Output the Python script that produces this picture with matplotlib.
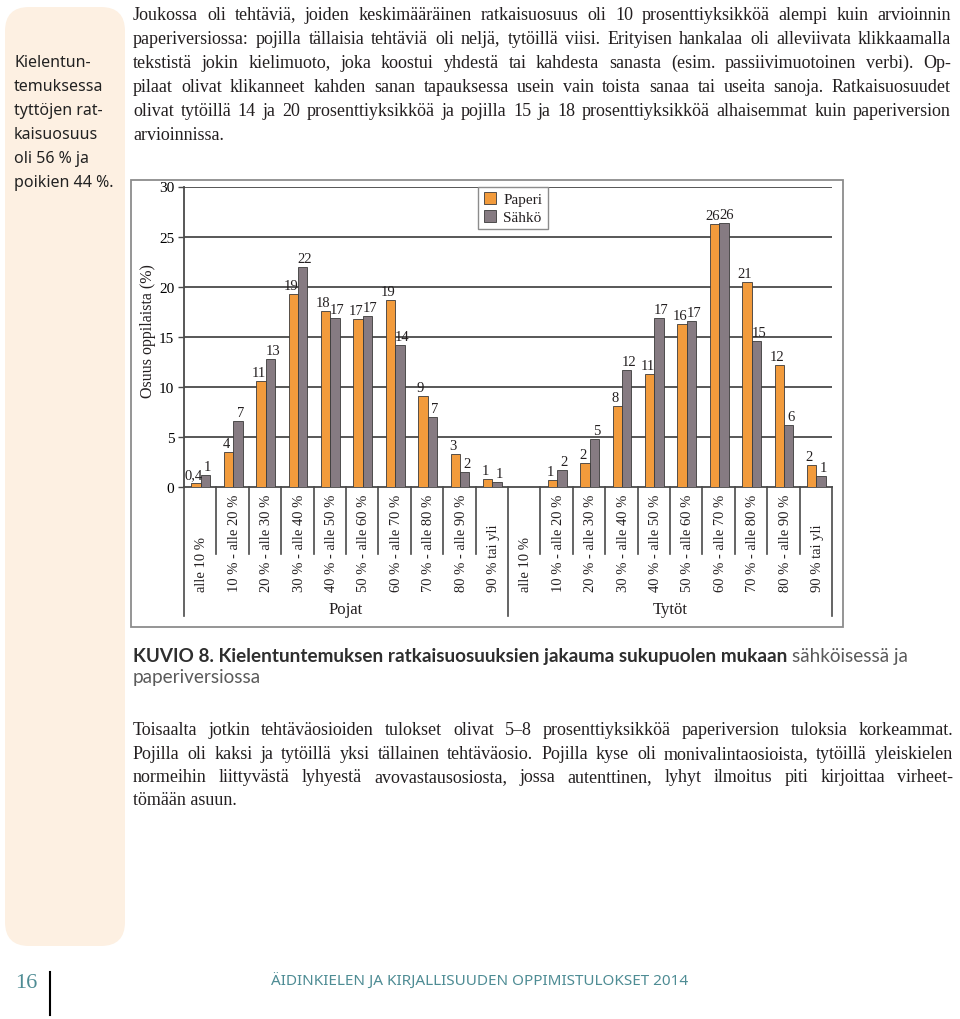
"""
Kuvio 8: kielentuntemuksen ratkaisuosuuksien jakauma sukupuolen mukaan,
paperi- ja sähköinen versio. Koko sivu tekstikappaleineen.
"""
import numpy as np
import matplotlib
matplotlib.use("Agg")
import matplotlib.pyplot as plt
from matplotlib.patches import Rectangle, FancyBboxPatch
from matplotlib.transforms import Affine2D, blended_transform_factory

W, H = 960, 1020

ORANGE = "#F29B3C"
GREY   = "#867B82"
GRID   = "#4A4A4A"
FRAME  = "#8C8C8C"
TEAL   = "#4E8C94"
PEACH  = "#FDF0E2"
INK    = "#231F20"

SERIF = ["Liberation Serif", "DejaVu Serif"]
SANS  = ["Noto Sans", "DejaVu Sans"]
CAP   = ["Lato", "Noto Sans", "DejaVu Sans"]

plt.rcParams.update({
    "font.family": SERIF,
    "font.size":   11,
    "text.color":  INK,
})

# ---- data -------------------------------------------------------------
bands = ["alle 10 %", "10 % - alle 20 %", "20 % - alle 30 %", "30 % - alle 40 %",
         "40 % - alle 50 %", "50 % - alle 60 %", "60 % - alle 70 %",
         "70 % - alle 80 %", "80 % - alle 90 %", "90 % tai yli"]
groups = ["Pojat", "Tytöt"]
series = ["Paperi", "Sähkö"]

boys_paper    = [0.4, 3.5, 10.6, 19.3, 17.6, 16.8, 18.7, 9.1, 3.3, 0.8]
boys_digital  = [1.2, 6.6, 12.8, 22.0, 16.9, 17.1, 14.2, 7.0, 1.5, 0.5]
girls_paper   = [0.0, 0.7, 2.4, 8.1, 11.3, 16.3, 26.3, 20.5, 12.2, 2.2]
girls_digital = [0.0, 1.7, 4.8, 11.7, 16.9, 16.6, 26.4, 14.6, 6.2, 1.1]

boys_paper_lbl    = ["0,4", "4", "11", "19", "18", "17", "19", "9", "3", "1"]
boys_digital_lbl  = ["1", "7", "13", "22", "17", "17", "14", "7", "2", "1"]
girls_paper_lbl   = ["", "1", "2", "8", "11", "16", "26", "21", "12", "2"]
girls_digital_lbl = ["", "2", "5", "12", "17", "17", "26", "15", "6", "1"]

y_ticks = [0, 5, 10, 15, 20, 25, 30]

para1 = [
    "Joukossa oli tehtäviä, joiden keskimääräinen ratkaisuosuus oli 10 prosenttiyksikköä alempi kuin arvioinnin",
    "paperiversiossa: pojilla tällaisia tehtäviä oli neljä, tytöillä viisi. Erityisen hankalaa oli alleviivata klikkaamalla",
    "tekstistä jokin kielimuoto, joka koostui yhdestä tai kahdesta sanasta (esim. passiivimuotoinen verbi). Op-",
    "pilaat olivat klikanneet kahden sanan tapauksessa usein vain toista sanaa tai useita sanoja. Ratkaisuosuudet",
    "olivat tytöillä 14 ja 20 prosenttiyksikköä ja pojilla 15 ja 18 prosenttiyksikköä alhaisemmat kuin paperiversion",
    "arvioinnissa.",
]
para2 = [
    "Toisaalta jotkin tehtäväosioiden tulokset olivat 5–8 prosenttiyksikköä paperiversion tuloksia korkeammat.",
    "Pojilla oli kaksi ja tytöillä yksi tällainen tehtäväosio. Pojilla kyse oli monivalintaosioista, tytöillä yleiskielen",
    "normeihin liittyvästä lyhyestä avovastausosiosta, jossa autenttinen, lyhyt ilmoitus piti kirjoittaa virheet-",
    "tömään asuun.",
]
sidebar = ["Kielentun-", "temuksessa", "tyttöjen rat-", "kaisuosuus", "oli 56 % ja", "poikien 44 %."]
caption_bold = "KUVIO 8. Kielentuntemuksen ratkaisuosuuksien jakauma sukupuolen mukaan "
caption_rest = ["sähköisessä ja", "paperiversiossa"]
footer = "ÄIDINKIELEN JA KIRJALLISUUDEN OPPIMISTULOKSET 2014"
page_no = "16"

# ---- page -------------------------------------------------------------
fig = plt.figure(figsize=(W / 100, H / 100), dpi=100)
fig.patch.set_facecolor("white")
# pixel coords, origin top-left
PX = Affine2D().scale(1 / W, -1 / H).translate(0, 1) + fig.transFigure
renderer = fig.canvas.get_renderer()

fig.patches.append(FancyBboxPatch((5, 8), 120, 939, boxstyle="round,pad=0,rounding_size=24",
                                  transform=PX, fc=PEACH, ec="none", zorder=0))

for i, s in enumerate(sidebar):
    fig.text(14, 63 + 24 * i, s, transform=PX, family=SANS, fontsize=11.5,
             va="center", ha="left", color="#222222")


def put_line(x0, x1, y, line, justify=True, **kw):
    if not justify:
        fig.text(x0, y, line, transform=PX, va="center", ha="left", **kw)
        return
    words = line.split(" ")
    texts = [fig.text(0, y, w, transform=PX, va="center", ha="left", **kw) for w in words]
    widths = [t.get_window_extent(renderer).width for t in texts]
    gap = (x1 - x0 - sum(widths)) / (len(words) - 1)
    x = x0
    for t, w in zip(texts, widths):
        t.set_x(x)
        x += w + gap


for i, line in enumerate(para1):
    put_line(133, 951, 15 + 24 * i, line, justify=(i < len(para1) - 1), fontsize=13, color=INK)

for i, line in enumerate(para2):
    put_line(133, 953, 731 + 23.2 * i, line, justify=(i < len(para2) - 1), fontsize=13, color=INK)

# caption
cap = fig.text(133, 657, caption_bold, transform=PX, family=CAP, fontsize=13.6,
               weight="bold", color="#2E2E2E", va="center", ha="left")
cap_w = cap.get_window_extent(renderer).width
fig.text(133 + cap_w, 657, caption_rest[0], transform=PX, family=CAP, fontsize=13.6,
         color="#5A5A5A", va="center", ha="left")
fig.text(133, 678, caption_rest[1], transform=PX, family=CAP, fontsize=13.6,
         color="#5A5A5A", va="center", ha="left")

# footer
fig.text(26, 984, page_no, transform=PX, fontsize=16, color=TEAL, va="center", ha="center")
fig.lines.append(plt.Line2D([50, 50], [973, 1016], transform=PX, color="black", lw=1.5))
fig.text(480, 982, footer, transform=PX, family=SANS, fontsize=11, color=TEAL,
         va="center", ha="center")

# chart frame
fig.patches.append(Rectangle((131, 181), 712, 447, transform=PX, fill=False,
                             ec=FRAME, lw=1.3))

# ---- chart ------------------------------------------------------------
ax = fig.add_axes([184 / W, 1 - 488 / H, 648 / W, 300.5 / H])
ax.set_facecolor("none")
ax.set_xlim(0, 20)
ax.set_ylim(0, 30)

paper = boys_paper + girls_paper
digital = boys_digital + girls_digital
paper_lbl = boys_paper_lbl + girls_paper_lbl
digital_lbl = boys_digital_lbl + girls_digital_lbl
x = np.arange(len(paper))

for v in y_ticks[1:]:
    ax.axhline(v, color=GRID, lw=1.3, zorder=1)

b1 = ax.bar(x + 0.23, paper, width=0.29, align="edge", color=ORANGE,
            edgecolor="#3A3A3A", lw=0.6, zorder=3, label=series[0])
b2 = ax.bar(x + 0.52, digital, width=0.29, align="edge", color=GREY,
            edgecolor="#3A3A3A", lw=0.6, zorder=3, label=series[1])

# paperi labels nudged left, sähkö labels right so pairs don't collide
for bars, labels, nudge in ((b1, paper_lbl, -0.07), (b2, digital_lbl, 0.07)):
    for bar, lbl in zip(bars, labels):
        if lbl:
            ax.text(bar.get_x() + bar.get_width() / 2 + nudge, bar.get_height() + 0.15, lbl,
                    ha="center", va="bottom", fontsize=10.5, zorder=4)

for s in ("top", "right"):
    ax.spines[s].set_visible(False)
for s in ("left", "bottom"):
    ax.spines[s].set_color(GRID)
    ax.spines[s].set_linewidth(1.3)

ax.set_xticks([])
ax.set_yticks(y_ticks)
ax.tick_params(axis="y", length=4, width=1, color=GRID, pad=3, labelsize=11)

# category separators and labels below the axis
trans = blended_transform_factory(ax.transData, ax.transAxes)
for i in range(len(paper) + 1):
    bottom = -0.43 if i % 10 == 0 else -0.223
    ax.plot([i, i], [0, bottom], transform=trans, clip_on=False, color=GRID, lw=1.2)

for i, lbl in enumerate(bands + bands):
    ax.text(i + 0.55, -0.346, lbl, transform=trans, rotation=90, ha="center",
            va="bottom", fontsize=10.5)

for g, name in enumerate(groups):
    ax.text(g * 10 + 5, -0.405, name, transform=trans, ha="center", va="center", fontsize=12)

fig.text(148, 331, "Osuus oppilaista (%)", transform=PX, rotation=90,
         ha="center", va="center", fontsize=11.5)

ax.legend(loc="upper left", bbox_to_anchor=(0.454, 1.0), frameon=True, fancybox=False,
          edgecolor=FRAME, framealpha=1, borderaxespad=0, fontsize=11,
          handlelength=0.8, handleheight=0.8, handletextpad=0.5,
          borderpad=0.35, labelspacing=0.25)

fig.savefig("out.png", dpi=100)
